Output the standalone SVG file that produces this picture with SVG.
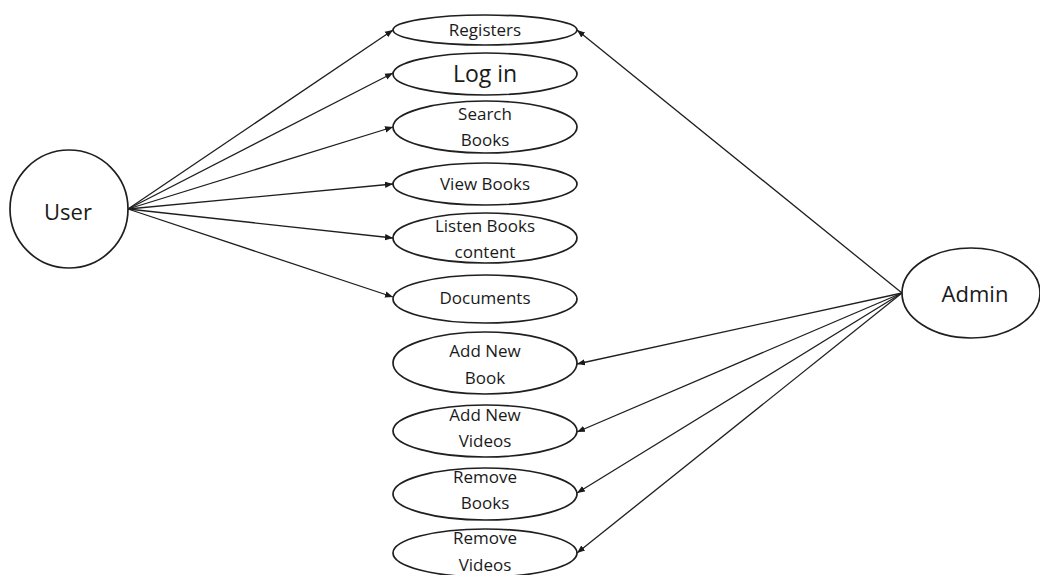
<svg xmlns="http://www.w3.org/2000/svg" width="1040" height="575" viewBox="0 0 1040 575">
  <defs>
    <marker id="arrow" viewBox="0 0 10 10" refX="10" refY="5" markerWidth="8" markerHeight="8" markerUnits="userSpaceOnUse" orient="auto">
      <path d="M0,1 L10,5 L0,9 Z" fill="#1a1a1a"/>
    </marker>
  </defs>
  <style>
    .shape { fill: #fff; stroke: #1f1f1f; stroke-width: 1.7; }
    .edge { fill: none; stroke: #1f1f1f; stroke-width: 1.3; marker-end: url(#arrow); }
    text { font-family: "Open Sans", "Noto Sans", "Liberation Sans", sans-serif; fill: #1a1a1a; text-anchor: middle; }
    .uc { font-size: 17px; }
    .big { font-size: 23px; }
    .actor { font-size: 22px; }
  </style>
  <rect width="1040" height="575" fill="#fff"/>

  <!-- associations -->
  <g id="connectors">
    <line class="edge" x1="128" y1="209" x2="393" y2="30"/>
    <line class="edge" x1="128" y1="209" x2="393" y2="73"/>
    <line class="edge" x1="128" y1="209" x2="393" y2="127"/>
    <line class="edge" x1="128" y1="209" x2="393" y2="184"/>
    <line class="edge" x1="128" y1="209" x2="393" y2="238"/>
    <line class="edge" x1="128" y1="209" x2="393" y2="297"/>
    <line class="edge" x1="902" y1="293" x2="577" y2="30"/>
    <line class="edge" x1="902" y1="293" x2="577" y2="364"/>
    <line class="edge" x1="902" y1="293" x2="577" y2="432"/>
    <line class="edge" x1="902" y1="293" x2="577" y2="493"/>
    <line class="edge" x1="902" y1="293" x2="577" y2="553"/>
  </g>

  <!-- actors -->
  <g id="user">
    <circle class="shape" cx="69" cy="209" r="59"/>
    <text class="actor" x="68" y="220">User</text>
  </g>
  <g id="admin">
    <ellipse class="shape" cx="971" cy="293" rx="69" ry="45"/>
    <text class="actor" x="975" y="302">Admin</text>
  </g>

  <!-- use cases -->
  <g id="registers">
    <ellipse class="shape" cx="485" cy="30" rx="92" ry="15"/>
    <text class="uc" x="485" y="36">Registers</text>
  </g>
  <g id="login">
    <ellipse class="shape" cx="485" cy="74" rx="92" ry="21"/>
    <text class="big" x="485" y="82">Log in</text>
  </g>
  <g id="search-books">
    <ellipse class="shape" cx="485" cy="127" rx="92" ry="26"/>
    <text class="uc" x="485" y="120">Search</text>
    <text class="uc" x="485" y="146">Books</text>
  </g>
  <g id="view-books">
    <ellipse class="shape" cx="485" cy="184" rx="92" ry="21"/>
    <text class="uc" x="485" y="190">View Books</text>
  </g>
  <g id="listen-books">
    <ellipse class="shape" cx="485" cy="238" rx="92" ry="25"/>
    <text class="uc" x="485" y="232">Listen Books</text>
    <text class="uc" x="485" y="258">content</text>
  </g>
  <g id="documents">
    <ellipse class="shape" cx="485" cy="299" rx="92" ry="24"/>
    <text class="uc" x="485" y="304">Documents</text>
  </g>
  <g id="add-book">
    <ellipse class="shape" cx="485" cy="363" rx="92" ry="31"/>
    <text class="uc" x="485" y="357">Add New</text>
    <text class="uc" x="485" y="384">Book</text>
  </g>
  <g id="add-videos">
    <ellipse class="shape" cx="485" cy="431" rx="92" ry="26"/>
    <text class="uc" x="485" y="421">Add New</text>
    <text class="uc" x="485" y="447">Videos</text>
  </g>
  <g id="remove-books">
    <ellipse class="shape" cx="485" cy="494" rx="92" ry="26"/>
    <text class="uc" x="485" y="483">Remove</text>
    <text class="uc" x="485" y="509">Books</text>
  </g>
  <g id="remove-videos">
    <ellipse class="shape" cx="485" cy="553" rx="92" ry="24"/>
    <text class="uc" x="485" y="544">Remove</text>
    <text class="uc" x="485" y="571">Videos</text>
  </g>
</svg>
